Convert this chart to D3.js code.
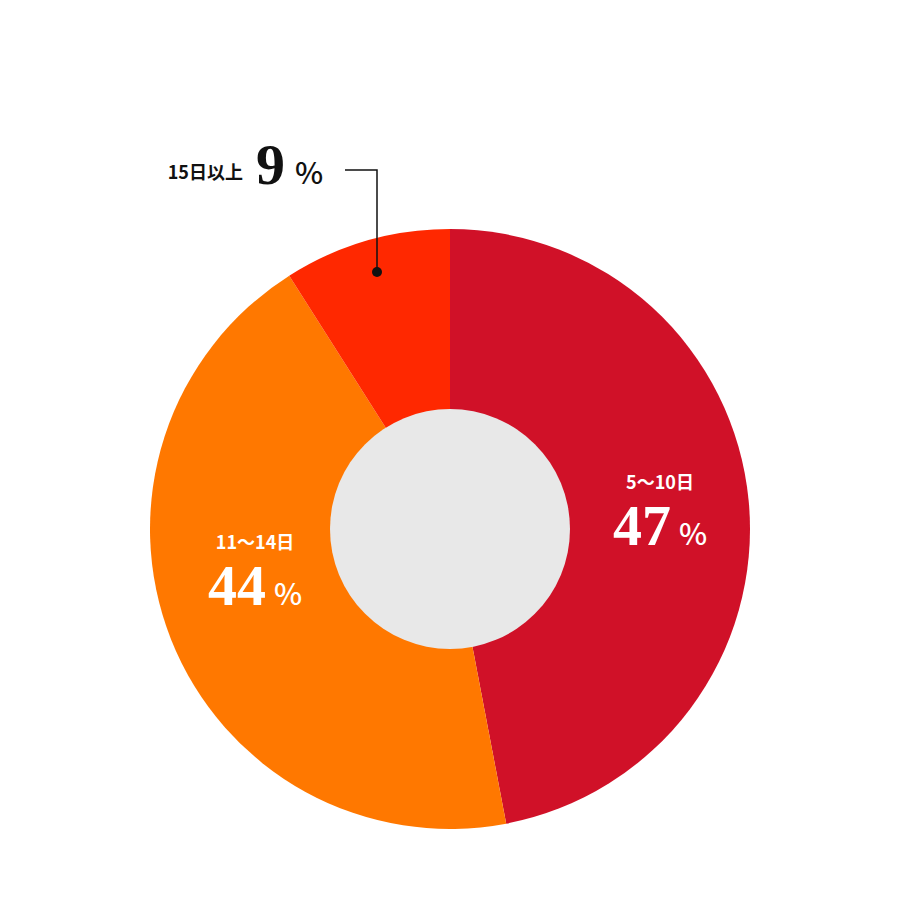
<!DOCTYPE html>
<meta charset='utf-8'>
<head><title>Donut</title></head>
<style>
body { margin: 0; background: #fff; }
.cat { font-family: "Noto Sans CJK JP", "Noto Sans", sans-serif; font-weight: 700; font-size: 18px; }
.num { font-family: "Liberation Serif", serif; font-weight: 700; font-size: 58px; }
.pct { font-family: "Noto Sans CJK JP", sans-serif; font-weight: 500; font-size: 30px; }
</style>
<body>
<svg width='900' height='916'></svg>
<script src='https://cdn.jsdelivr.net/npm/d3@7'></script>
<script>
var categories = ['5〜10日', '11〜14日', '15日以上'];
var values = [47, 44, 9];
var colors = ['#d01128', '#ff7800', '#ff2800'];

var cx = 450, cy = 529, outerR = 300, innerR = 120;
var svg = d3.select('svg');
var g = svg.append('g').attr('transform', 'translate(' + cx + ',' + cy + ')');

var pie = d3.pie().sort(null).value(function(d) { return d; });
var arcs = pie(values);
var arc = d3.arc().innerRadius(0).outerRadius(outerR);

g.selectAll('path').data(arcs).enter().append('path')
  .attr('d', arc)
  .attr('fill', function(d, i) { return colors[i]; });

g.append('circle').attr('r', innerR).attr('fill', '#e8e8e8');

// inside labels
var labelPos = [[210, -40], [-195, 20]];
labelPos.forEach(function(p, i) {
  var t = g.append('g').attr('transform', 'translate(' + p + ')');
  t.append('text').attr('class', 'cat').attr('fill', '#fff')
    .attr('text-anchor', 'middle').attr('y', 0).text(categories[i]);
  var n = t.append('text').attr('fill', '#fff').attr('text-anchor', 'middle').attr('y', 56);
  n.append('tspan').attr('class', 'num').text(values[i]);
  n.append('tspan').attr('class', 'pct').attr('dx', 8).text('%');
});

// outside label for small slice
var out = svg.append('g');
out.append('text').attr('class', 'cat').attr('x', 243).attr('y', 179)
  .attr('text-anchor', 'end').attr('fill', '#111').text(categories[2]);
var n2 = out.append('text').attr('x', 256).attr('y', 184).attr('fill', '#111');
n2.append('tspan').attr('class', 'num').text(values[2]);
n2.append('tspan').attr('class', 'pct').attr('dx', 10).text('%');

var mid = (arcs[2].startAngle + arcs[2].endAngle) / 2;
var dotR = 250;
var dx = cx + Math.sin(mid) * dotR * 0.5 + 0, dy = cy - dotR;
var dot = [377, 272];
out.append('path').attr('fill', 'none').attr('stroke', '#111').attr('stroke-width', 1.5)
  .attr('d', 'M345,170H' + dot[0] + 'V' + dot[1]);
out.append('circle').attr('cx', dot[0]).attr('cy', dot[1]).attr('r', 5).attr('fill', '#111');
</script>
</body>
